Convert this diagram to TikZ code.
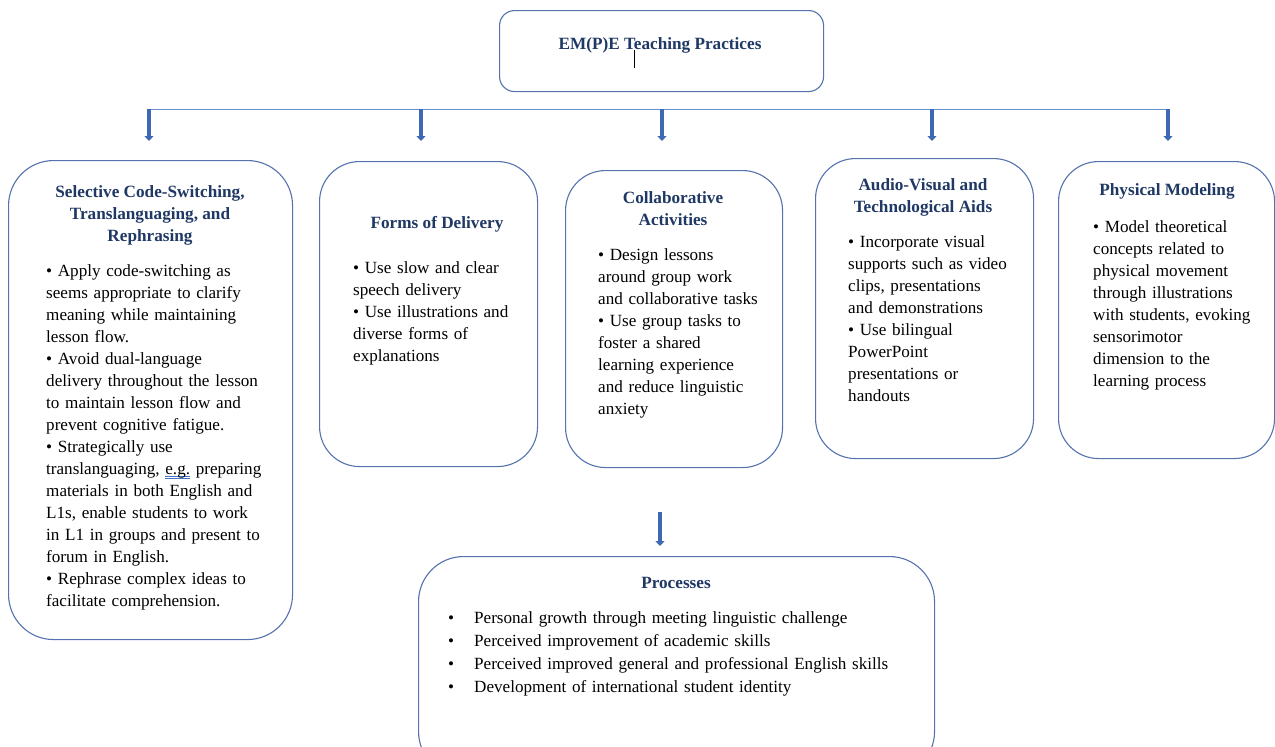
\documentclass[tikz,border=0pt]{standalone}
\usepackage{fontspec}
\setmainfont{Liberation Serif}
\usetikzlibrary{arrows.meta}
\definecolor{navy}{HTML}{1F3864}
\definecolor{boxline}{HTML}{5673AF}
\definecolor{arrowblue}{HTML}{3F68B4}
\definecolor{barblue}{HTML}{6890CC}
\definecolor{ulblue}{HTML}{4472C4}
\newcommand{\dulmark}[1]{\setbox0\hbox{#1}\rlap{\color{ulblue}\rule[-2.2pt]{\wd0}{0.6pt}}\rlap{\color{ulblue}\rule[-4.2pt]{\wd0}{0.6pt}}\box0\relax}
\tikzset{
  box/.style={draw=boxline, line width=1.1pt, fill=white, inner sep=0pt, anchor=north west},
  ttl/.style={font=\fontsize{17.2}{22}\selectfont\bfseries, text=navy, align=center, inner sep=0pt, anchor=north},
  body/.style={font=\fontsize{17.1}{22}\selectfont, text=black, align=left, text width=320pt, inner sep=0pt, anchor=north west},
  arr/.style={draw=arrowblue, line width=3.6pt, -{Triangle[width=9pt,length=5pt]}},
  bar/.style={draw=barblue, line width=1.8pt}
}
\begin{document}
\begin{tikzpicture}[x=1pt,y=-1pt]
\useasboundingbox (0,0) rectangle (1275,747);
% top box
\node[box, rounded corners=15pt, minimum width=324pt, minimum height=81pt] (top) at (499,10) {};
\node[ttl] (toptitle) at (660,33.6) {\strut EM(P)E Teaching Practices};
\draw[line width=0.8pt] (634,50) -- (634,68);
% bar and arrows
\coordinate (bl) at (148,109.5);
\coordinate (br) at (1169,109.5);
\draw[bar] (bl) -- (br);
\coordinate (a1) at (149,109); \coordinate (e1) at (149,141);
\coordinate (a2) at (421,109); \coordinate (e2) at (421,141);
\coordinate (a3) at (662,109); \coordinate (e3) at (662,141);
\coordinate (a4) at (932,109); \coordinate (e4) at (932,141);
\coordinate (a5) at (1168,109); \coordinate (e5) at (1168,141);
\foreach \i in {1,...,5} \draw[arr] (a\i) -- (e\i);
% box 1
\node[box, rounded corners=45pt, minimum width=284pt, minimum height=479pt] (b1) at (8,160) {};
\node[ttl] (t1) at (150,181.6) {\strut Selective Code-Switching,\\Translanguaging, and\\Rephrasing};
\node[body] (x1) at (46,260.6) {\strut\textbullet\ Apply code-switching as\\
seems appropriate to clarify\\
meaning while maintaining\\
lesson flow.\\
\textbullet\ Avoid dual-language\\
delivery throughout the lesson\\
to maintain lesson flow and\\
prevent cognitive fatigue.\\
\textbullet\ Strategically use\\
translanguaging, \dulmark{e.g.} preparing\\
materials in both English and\\
L1s, enable students to work\\
in L1 in groups and present to\\
forum in English.\\
\textbullet\ Rephrase complex ideas to\\
facilitate comprehension.};
% box 2
\node[box, rounded corners=40pt, minimum width=218pt, minimum height=305pt] (b2) at (319,161) {};
\node[ttl] (t2) at (437,212.6) {\strut Forms of Delivery};
\node[body] (x2) at (353,257.6) {\strut\textbullet\ Use slow and clear\\
speech delivery\\
\textbullet\ Use illustrations and\\
diverse forms of\\
explanations};
% box 3
\node[box, rounded corners=40pt, minimum width=217pt, minimum height=297pt] (b3) at (565,170) {};
\node[ttl] (t3) at (673,187.6) {\strut Collaborative\\Activities};
\node[body] (x3) at (598,244.6) {\strut\textbullet\ Design lessons\\
around group work\\
and collaborative tasks\\
\textbullet\ Use group tasks to\\
foster a shared\\
learning experience\\
and reduce linguistic\\
anxiety};
% box 4
\node[box, rounded corners=40pt, minimum width=218pt, minimum height=300pt] (b4) at (815,158) {};
\node[ttl] (t4) at (923,174.6) {\strut Audio-Visual and\\Technological Aids};
\node[body] (x4) at (848,231.6) {\strut\textbullet\ Incorporate visual\\
supports such as video\\
clips, presentations\\
and demonstrations\\
\textbullet\ Use bilingual\\
PowerPoint\\
presentations or\\
handouts};
% box 5
\node[box, rounded corners=40pt, minimum width=216pt, minimum height=297pt] (b5) at (1058,161) {};
\node[ttl] (t5) at (1167,179.6) {\strut Physical Modeling};
\node[body] (x5) at (1093,216.6) {\strut\textbullet\ Model theoretical\\
concepts related to\\
physical movement\\
through illustrations\\
with students, evoking\\
sensorimotor\\
dimension to the\\
learning process};
% arrow to processes
\coordinate (pa) at (660,512);
\coordinate (pe) at (660,546);
\draw[arr] (pa) -- (pe);
% processes
\node[box, rounded corners=45pt, minimum width=516pt, minimum height=220pt] (b6) at (418,556) {};
\node[ttl] (t6) at (676,572.6) {\strut Processes};
\node[body, text width=480pt, font=\fontsize{17.1}{23}\selectfont] (x6) at (448,607.6) {\strut\makebox[26pt][l]{\textbullet}Personal growth through meeting linguistic challenge\\
\makebox[26pt][l]{\textbullet}Perceived improvement of academic skills\\
\makebox[26pt][l]{\textbullet}Perceived improved general and professional English skills\\
\makebox[26pt][l]{\textbullet}Development of international student identity};
\end{tikzpicture}
\end{document}
